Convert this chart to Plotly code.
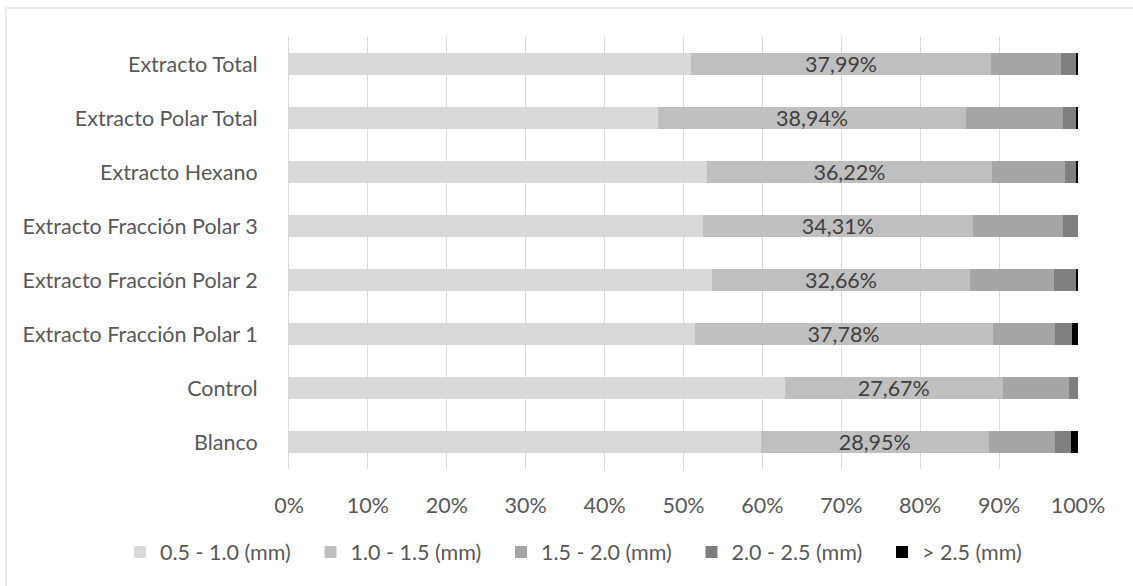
import plotly.graph_objects as go

# Samples, listed from the top row of the chart to the bottom row
categories = [
    "Extracto Total",
    "Extracto Polar Total",
    "Extracto Hexano",
    "Extracto Fracción Polar 3",
    "Extracto Fracción Polar 2",
    "Extracto Fracción Polar 1",
    "Control",
    "Blanco",
]

# Share (%) of each particle-size class per sample
size_05_10 = [50.98, 46.83, 52.92, 52.41, 53.64, 51.40, 62.82, 59.77]
size_10_15 = [37.99, 38.94, 36.22, 34.31, 32.66, 37.78, 27.67, 28.95]
size_15_20 = [8.90, 12.30, 9.20, 11.40, 10.60, 7.90, 8.40, 8.40]
size_20_25 = [1.90, 1.70, 1.50, 1.88, 2.90, 2.10, 1.11, 2.00]
size_gt_25 = [0.23, 0.23, 0.16, 0.00, 0.20, 0.82, 0.00, 0.88]

series_names = ["0.5 - 1.0 (mm)", "1.0 - 1.5 (mm)", "1.5 - 2.0 (mm)",
                "2.0 - 2.5 (mm)", "> 2.5 (mm)"]
series_values = [size_05_10, size_10_15, size_15_20, size_20_25, size_gt_25]
series_colors = ["#D9D9D9", "#BFBFBF", "#A5A5A5", "#7F7F7F", "#000000"]

x_ticks = list(range(0, 101, 10))
x_tick_labels = [f"{t}%" for t in x_ticks]

FONT = "Lato"
TEXT_SIZE = 21.5

# plot area in pixels
PLOT_L, PLOT_R, PLOT_T, PLOT_B = 289, 1078, 37, 469
PLOT_W, PLOT_H = PLOT_R - PLOT_L, PLOT_B - PLOT_T

fig = go.Figure()
for i, (name, vals, color) in enumerate(zip(series_names, series_values, series_colors)):
    kwargs = {}
    if i == 1:
        # the 1.0 - 1.5 mm class carries its value label, decimal comma
        kwargs = dict(
            text=[f"{v:.2f}%".replace(".", ",") for v in vals],
            textposition="inside",
            insidetextanchor="middle",
            textangle=0,
            constraintext="none",
            textfont=dict(family=FONT, size=21.5, color="#404040"),
        )
    fig.add_trace(go.Bar(
        y=categories,
        x=vals,
        name=name,
        orientation="h",
        width=0.39,
        marker=dict(color=color, line=dict(width=0)),
        hoverinfo="skip",
        **kwargs,
    ))

# outer chart frame
fig.add_shape(
    type="rect", xref="paper", yref="paper",
    x0=(6 - PLOT_L) / PLOT_W, x1=(1145 - PLOT_L) / PLOT_W,
    y0=(PLOT_B - 600) / PLOT_H, y1=(PLOT_B - 8) / PLOT_H,
    line=dict(color="#D9D9D9", width=1), fillcolor="rgba(0,0,0,0)",
    layer="below",
)

fig.update_layout(
    width=1133,
    height=586,
    barmode="stack",
    paper_bgcolor="white",
    plot_bgcolor="white",
    margin=dict(l=PLOT_L, r=1133 - PLOT_R, t=PLOT_T, b=586 - PLOT_B, autoexpand=False),
    font=dict(family=FONT, size=TEXT_SIZE, color="#595959"),
    showlegend=True,
    legend=dict(
        orientation="h",
        x=(120 - PLOT_L) / PLOT_W,
        xanchor="left",
        y=(PLOT_B - 552) / PLOT_H,
        yanchor="middle",
        font=dict(family=FONT, size=TEXT_SIZE, color="#595959"),
        traceorder="normal",
        entrywidth=145.5,
        entrywidthmode="pixels",
        itemclick=False,
        itemdoubleclick=False,
    ),
    xaxis=dict(
        range=[0, 100],
        tickvals=x_ticks,
        ticktext=x_tick_labels,
        showgrid=True,
        gridcolor="#D9D9D9",
        gridwidth=1,
        zeroline=False,
        showline=False,
        ticks="",
        ticklabelstandoff=21,
        tickfont=dict(family=FONT, size=TEXT_SIZE, color="#595959"),
        fixedrange=True,
    ),
    yaxis=dict(
        autorange="reversed",
        showgrid=False,
        showline=True,
        linecolor="#D9D9D9",
        linewidth=1,
        ticks="",
        ticklabelstandoff=26,
        tickfont=dict(family=FONT, size=TEXT_SIZE, color="#595959"),
        fixedrange=True,
    ),
)

fig.write_html("out.html", config={"displayModeBar": False})
